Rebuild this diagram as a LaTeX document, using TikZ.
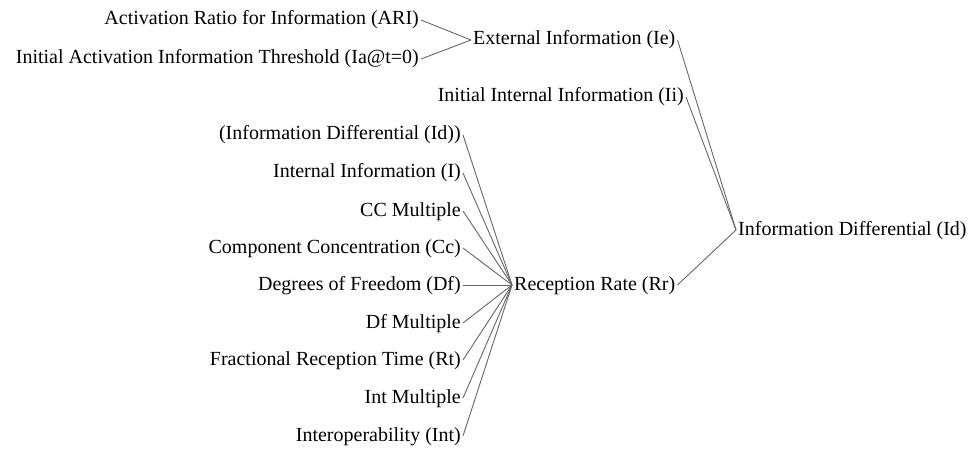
\documentclass[tikz,border=0pt]{standalone}
\usepackage{fontspec}
\setmainfont{Liberation Serif}
\begin{document}
\begin{tikzpicture}[x=1pt,y=-1pt,
  every node/.style={font=\fontsize{20}{24}\selectfont, text=black,
    inner sep=2pt, text height=14pt, text depth=4pt},
  cause/.style={anchor=east},
  effect/.style={anchor=west},
  link/.style={draw=black!60, line width=0.9pt}]
\useasboundingbox (0,0) rectangle (973,449);
% first level of the tree
\node[cause] (ari) at (421,20) {Activation Ratio for Information (ARI)};
\node[cause] (ia) at (421,59) {Initial Activation Information Threshold (Ia@t=0)};
\node[effect] (ie) at (471,40) {External Information (Ie)};
\node[cause] (ii) at (686,97) {Initial Internal Information (Ii)};
% inputs of the reception rate
\node[cause] (idp) at (463,135) {(Information Differential (Id))};
\node[cause] (intinf) at (463,173) {Internal Information (I)};
\node[cause] (ccm) at (463,211) {CC Multiple};
\node[cause] (cc) at (463,248) {Component Concentration (Cc)};
\node[cause] (df) at (463,285) {Degrees of Freedom (Df)};
\node[cause] (dfm) at (463,323) {Df Multiple};
\node[cause] (rt) at (463,360) {Fractional Reception Time (Rt)};
\node[cause] (intm) at (463,398) {Int Multiple};
\node[cause] (int) at (463,436) {Interoperability (Int)};
\node[effect] (rr) at (512,285) {Reception Rate (Rr)};
% root
\node[effect] (id) at (736,230) {Information Differential (Id)};
% connectors
\draw[link] (ari.east) -- (ie.west);
\draw[link] (ia.east) -- (ie.west);
\foreach \s in {idp,intinf,ccm,cc,df,dfm,rt,intm,int}
  \draw[link] (\s.east) -- (rr.west);
\draw[link] (ie.east) -- (id.west);
\draw[link] (ii.east) -- (id.west);
\draw[link] (rr.east) -- (id.west);
\end{tikzpicture}
\end{document}
